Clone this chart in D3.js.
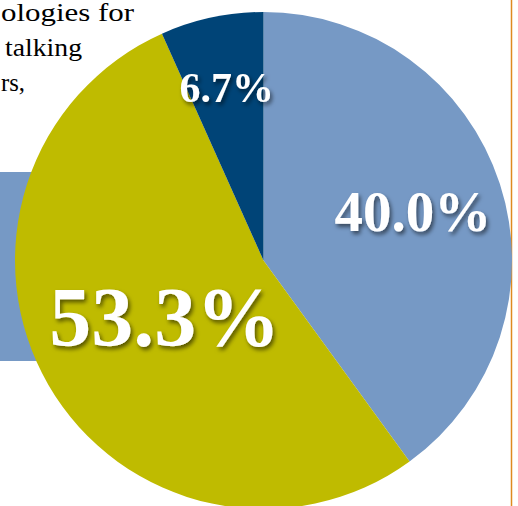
<!DOCTYPE html>
<html>
<head>
<meta charset="utf-8">
<script src="https://cdn.jsdelivr.net/npm/d3@7"></script>
<style>
  html, body { margin: 0; padding: 0; background: #ffffff; }
  svg { display: block; }
</style>
</head>
<body>
<svg id="chart" width="518" height="506"></svg>
<script>
// ---- data ----
const categories = ["A", "B", "C"];
const values = [40.0, 53.3, 6.7];
const valueLabels = ["40.0%", "53.3%", "6.7%"];
const sliceColors = ["#7699c5", "#bfbb00", "#004477"];
const backgroundText = ["ologies for", "talking", "rs,"];

// ---- layout ----
const W = 518, H = 506;
const cx = 263.5, cy = 260.5, R = 248.5;
const labelRadius = [157, 114, 176];
const labelSize = [57, 84, 42];

const svg = d3.select("#chart");

const defs = svg.append("defs");
const f = defs.append("filter").attr("id", "shadow")
  .attr("x", "-20%").attr("y", "-20%").attr("width", "140%").attr("height", "140%");
f.append("feDropShadow").attr("dx", 2).attr("dy", 3).attr("stdDeviation", 2)
  .attr("flood-color", "#000").attr("flood-opacity", 0.55);

// background decor (slide behind the chart)
svg.append("rect").attr("x", 0).attr("y", 172).attr("width", 60).attr("height", 189)
  .attr("fill", "#7699c5");

svg.append("line").attr("x1", 511.5).attr("x2", 511.5).attr("y1", 0).attr("y2", H)
  .attr("stroke", "#df8a20").attr("stroke-width", 1.5);

const bgX = [1, 5, 1];
const bgLen = [133, 77, 24];
svg.append("g").selectAll("text").data(backgroundText).join("text")
  .attr("x", (d, i) => bgX[i])
  .attr("y", (d, i) => 21 + i * 35)
  .attr("font-family", "'Palatino Linotype', 'Book Antiqua', Palatino, 'Liberation Serif', serif")
  .attr("font-size", 26)
  .attr("textLength", (d, i) => bgLen[i])
  .attr("lengthAdjust", "spacingAndGlyphs")
  .attr("fill", "#000")
  .text(d => d);

// pie
const pie = d3.pie().sort(null).value(d => d)(values);
const arc = d3.arc().innerRadius(0).outerRadius(R);

const g = svg.append("g").attr("transform", `translate(${cx},${cy})`);
g.selectAll("path").data(pie).join("path")
  .attr("d", arc)
  .attr("fill", (d, i) => sliceColors[i]);

g.selectAll("text.lbl").data(pie).join("text")
  .attr("class", "lbl")
  .attr("transform", (d, i) => {
    const c = d3.arc().innerRadius(labelRadius[i]).outerRadius(labelRadius[i]).centroid(d);
    return `translate(${c[0]},${c[1]})`;
  })
  .attr("text-anchor", "middle")
  .attr("dominant-baseline", "central")
  .attr("font-family", "'Palatino Linotype', 'Book Antiqua', Palatino, 'Liberation Serif', serif")
  .attr("font-weight", "bold")
  .attr("font-size", (d, i) => labelSize[i])
  .attr("fill", "#ffffff")
  .attr("filter", "url(#shadow)")
  .text((d, i) => valueLabels[i]);
</script>
</body>
</html>
